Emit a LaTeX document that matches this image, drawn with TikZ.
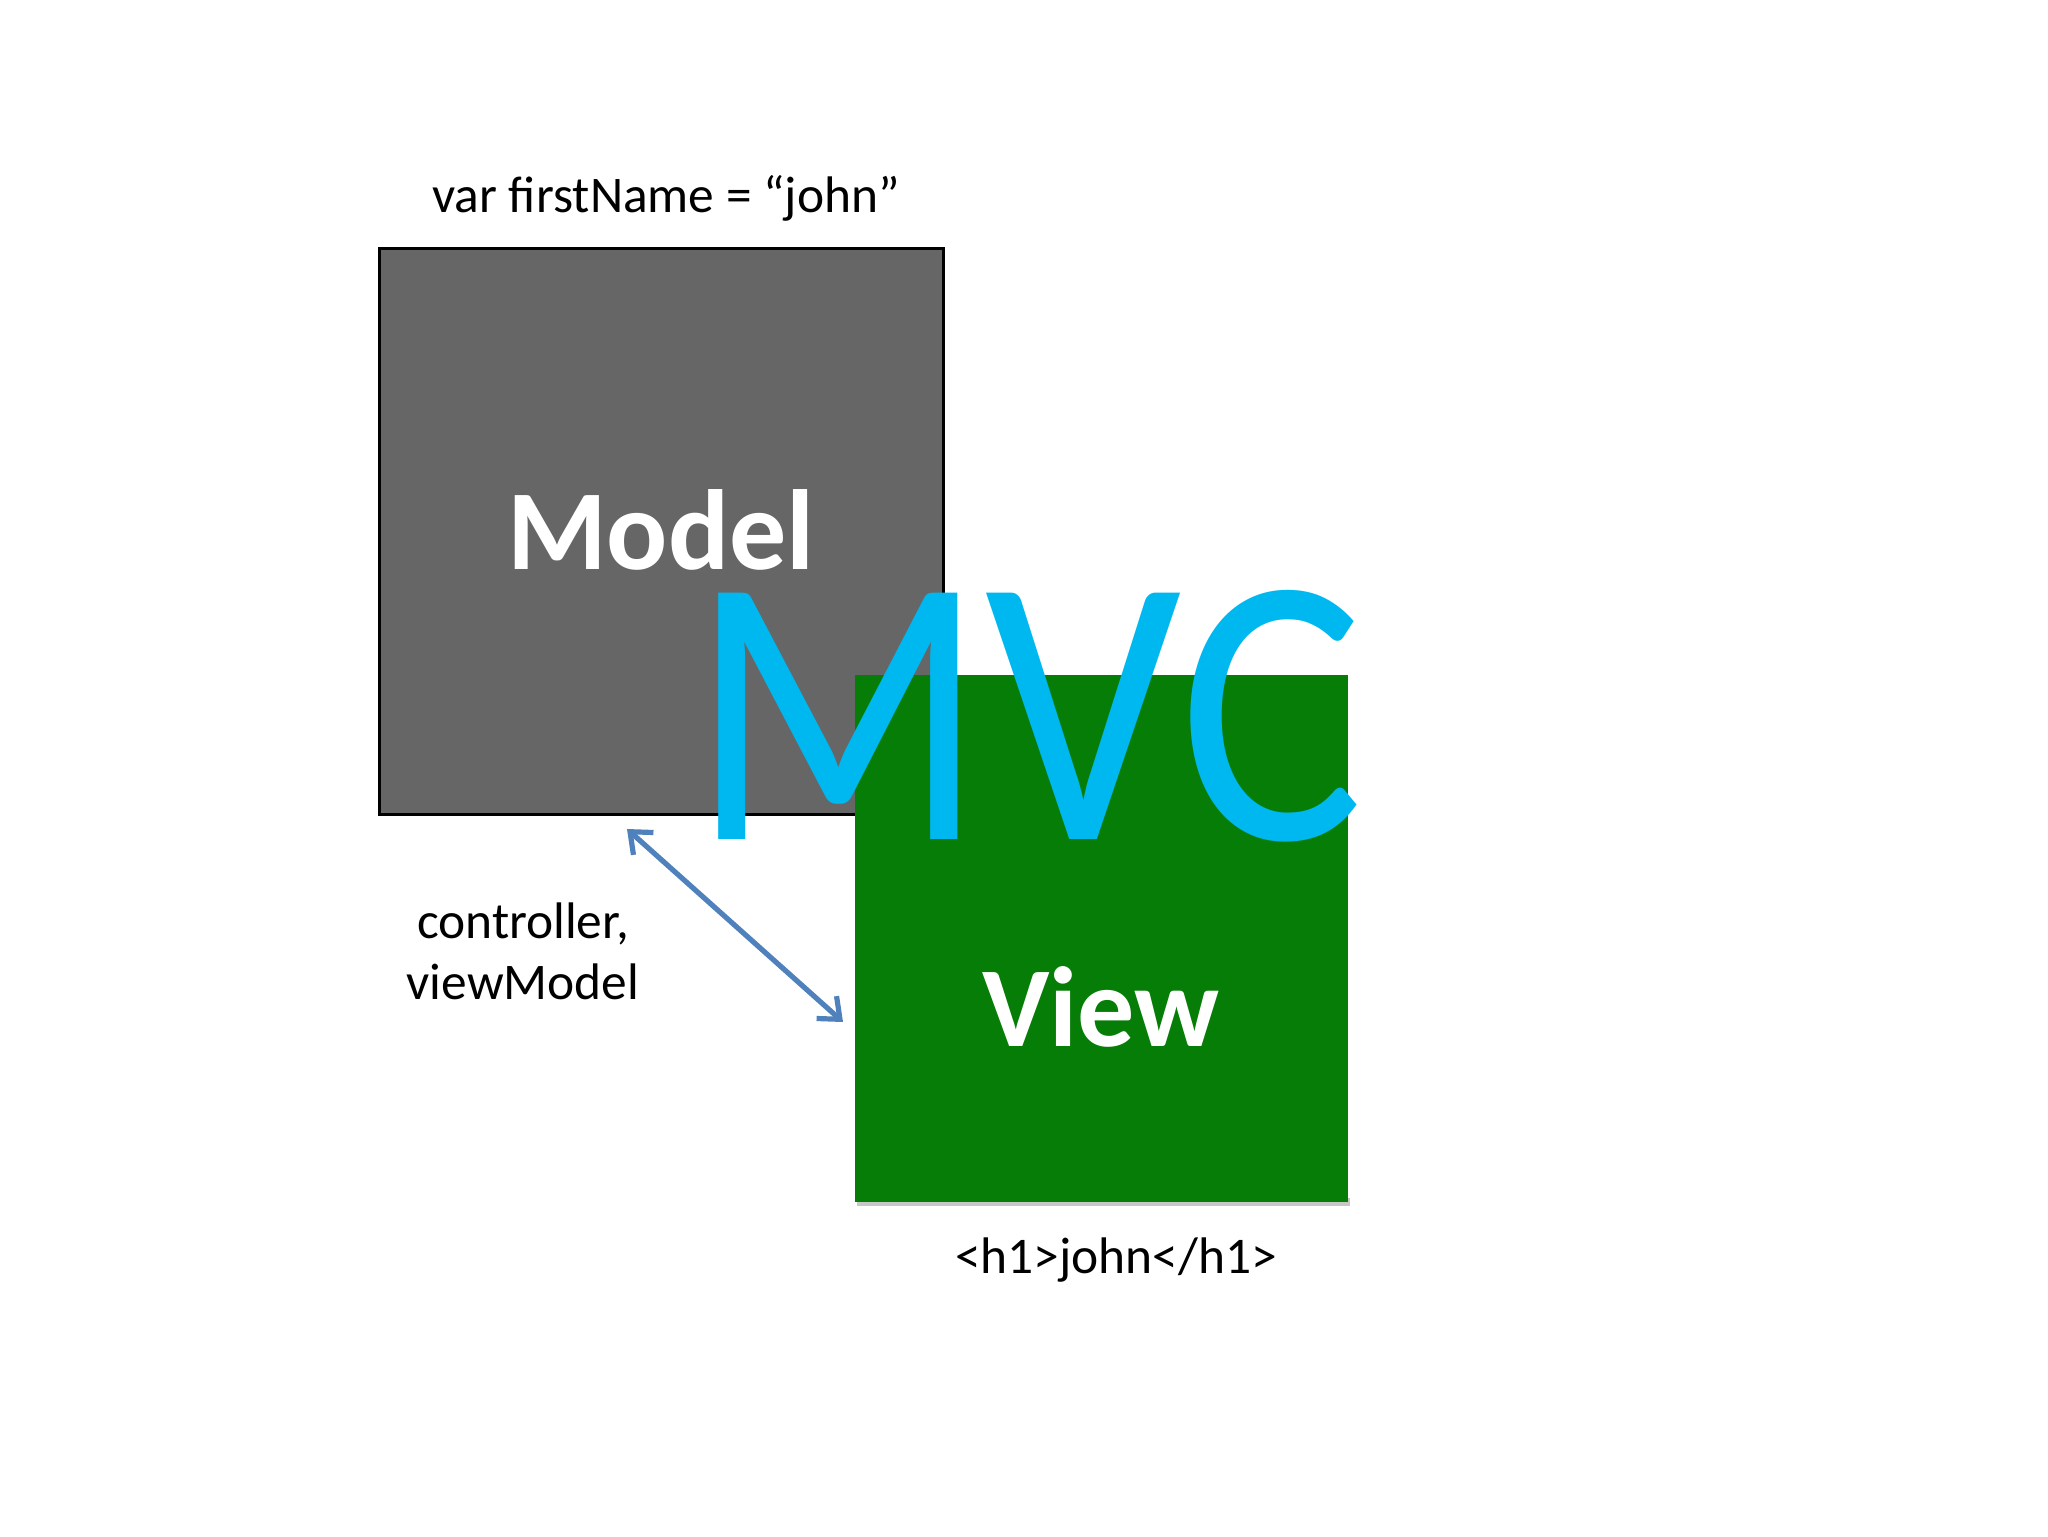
\documentclass[tikz,border=0pt]{standalone}
\usepackage{fontspec}
\setmainfont{Carlito}
\usetikzlibrary{arrows.meta}
\definecolor{modelgray}{HTML}{666666}
\definecolor{viewgreen}{HTML}{067D06}
\definecolor{mvccyan}{HTML}{00B8F0}
\definecolor{arrowblue}{HTML}{4F81BD}
\tikzset{
  boxlabel/.style={text=white, font=\bfseries\fontsize{57}{60}\selectfont, inner sep=0pt, text depth=0pt},
  plainlabel/.style={text=black, font=\fontsize{25.7}{28.5}\selectfont, inner sep=0pt, align=center},
  mvcfont/.style={font=\fontsize{192}{200}\selectfont, inner sep=0pt, anchor=base west, text height=124pt, text depth=0pt},
  link/.style={draw=arrowblue, line width=2.6pt, {Straight Barb[length=9pt,width=15pt,line width=2.6pt]}-{Straight Barb[length=9pt,width=15pt,line width=2.6pt]}}
}
\begin{document}
\begin{tikzpicture}[x=0.5pt,y=-0.5pt]
\useasboundingbox[fill=white] (0,0) rectangle (2048,1536);
% model box
\node[draw=black, line width=1.5pt, fill=modelgray, minimum width=282pt, minimum height=283pt, inner sep=0pt] (model) at (661,531) {};
\node[boxlabel, anchor=base] (modeltxt) at (661,569) {Model};
% view box shadow + box
\fill[black!22] (857,1198) rectangle (1350,1206);
\node[fill=viewgreen, minimum width=246.5pt, minimum height=263.5pt, inner sep=0pt] (view) at (1101.5,938.5) {};
\node[boxlabel, anchor=base] (viewtxt) at (1101,1046) {View};
% MVC
\node[mvcfont, text=mvccyan] (mvc) at (690,839) {\scalebox{0.9}[1]{MVC}};
% labels
\node[plainlabel, anchor=base] (var) at (666,212) {var firstName = “john”};
\node[plainlabel, anchor=base] (ctrl1) at (523,938) {controller,};
\node[plainlabel, anchor=base] (ctrl2) at (523,999) {viewModel};
\node[plainlabel, anchor=base] (h1) at (1116,1273) {<h1>john</h1>};
% arrow
\coordinate (a1) at (627,829);
\coordinate (a2) at (843,1022);
\draw[link] (a1) -- (a2);
\end{tikzpicture}
\end{document}
